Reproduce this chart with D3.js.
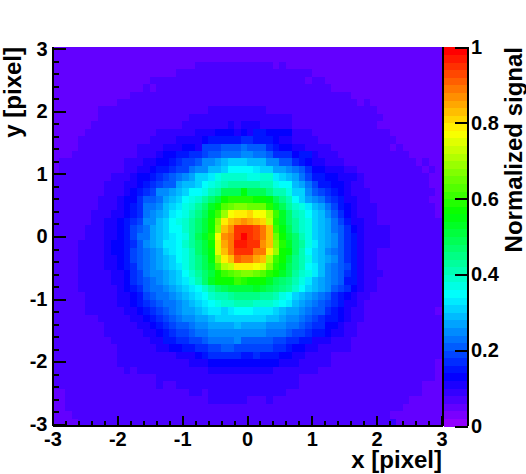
<!DOCTYPE html>
<html><head><meta charset="utf-8">
<script src="https://d3js.org/d3.v7.min.js"></script>
<style>
html,body{margin:0;padding:0;background:#fff}
svg{display:block}
text{font-family:"Liberation Sans",Arial,sans-serif;font-weight:bold;fill:#000}
</style></head><body><svg id="c" width="526" height="474"></svg>
<script>
// Palette level of each cell (one character per cell, top row first; spaces only group runs).
const levelAlphabet = "0123456789abcdefghijklmnopqrstuvwxyzABCDEFGHIJKLMN";
const signalRows = [
"222222222222222222222222222222 222222222222222222222222222222",
"222222222222222222222222222222 222222222222222222222222222222",
"2222222222222222222222 33333333 3333 2 3 222222222222222222222222",
"2222222222222222222 33333333333 3333333333 22222222222222222222",
"222222222222222 333333333333333 333333333 2 33 222222222222222222",
"22222222222222 3 2 33333333333333 3333333333333 22222222222222222",
"222222222222 333333333333333333 3333333333333333 22222222222222",
"2222222222 33333333333333333333 33333333333333333 2 3 22222222222",
"2222222 33333333333333333 444444 444 33333333333333333 2222222222",
"2222222 33333333333333 444444444 4444444 33333333333333 222222222",
"222222 33333333333333 4444444 5 4 5 55 44444 3333333333333 2222222222",
"22222 33333333333 444444 555 666 5 6 5 77 6666 444 333333333333 22222222",
"2222 33333333333 4444 5555 6 77777 8 8 777 6 55 4444 333333333333 2222222",
"2222 333333333 4444 555 66 5 999 aaa b aaa 8 7 66 55 4444 333333333 2 3 222222",
"222 3333333333 444 5 66 77 88 9 aa bbb c c bb a 888 6 77 5 444 33333333333 22222",
"2 3333333333 444 55 66 7 8 99 a cc d e fff eee cc aa 8 7 6 55 444 33333333333 2 3 22",
"2 3333333333 44 55 6 77 8 99 b cc ee f h hh h g ff dd c b a 8 66 555 44 3333333333 2 3 2",
"333333333 444 5 66 7 8 9 a b c d ff g i jjjj ii jj g f e d b 9 77 66 555 4 3333333333 22",
"33333333 444 55 6 7 8 9 aa d ee f h i j k lll ll kk i hh e d b 9 77 66 5 44 3333333333 22",
"33333333 444 5 6 7 8 9 cc d e f hh i k l ooo r ooo m kk i ff c a 9 8 7 6 5 444 3333333333 2",
"3333333 444 5 66 8 aa b d e f h i j l n p s ttt t ss r o m k h f d c b 9 8 7 55 44 333333333 22",
"3333333 444 5 6 7 8 bb c e f g i j l n q s v w xx www t q o l j i g e d b 9 7 6 5 444 333333333 2",
"333333 444 55 6 7 8 b c d e g h i k m o r u y C DD E CC z u q n k j h f e c a 8 6 5 444 333333333 2",
"333333 44 55 6 7 8 9 cc e f h i j l n p s x D F G H G F E A t q n l j i f e d b 9 7 5 5 44 3333333333",
"33333 444 55 6 7 9 a b d e f h h j l n p s y F H L L L K I F u r o l j i f e d b a 8 6 5 4444 33333333",
"33333 444 55 6 7 9 b b d e f g h i l o q t C H I L N L K I F w s p n k i f e d c a 8 7 5 4444 33333333",
"3333 4444 5 66 7 8 a c d e g g h j l n p s B G I M M L L H F x t q n l i g e d c a 8 7 5 4444 33333333",
"3333 4444 5 66 7 9 a b c d f g h i k n p r B F I L L L I I D y s r n k h f e c b a 8 7 5 44 3333333333",
"3333 4444 55 6 7 9 a b c d e f h i k m o r y D F J I I G F z u s p m k i f e d c a 8 7 5 44 3333333333",
"3333 4444 55 6 7 8 a b c d e f g i k m o q v z A D D D C B x t r o m k h g e c b a 9 7 5 44 3333333333",
"3333 44444 55 6 8 9 b c c d e f h j l n p s u v w x x w v t s q o l j i g e c b a 8 7 5 444 333333333",
"3333 44444 55 6 8 9 a b c d e f g i k n q s s s u t s s s q o n m k i g e d c b a 7 7 5 44 3333333333",
"3333 444444 5 6 7 8 a b b c d e f g h j l n o p p p p q p o n m l j h f e d c a 9 8 6 5 44 3333333333",
"33333 44444 55 6 7 9 a b b c d e f g h j k k l m m m m l l k i h f e d c b a 8 7 6 5 44 33333333333",
"33333 44444 55 6 7 8 9 a b b c d e f g h i j j k k k j j j i h g e d c b a 9 8 7 5 5 4 333333333333",
"33333 444444 55 6 7 8 9 a b c d d e f g g f g h h h g g g f e d d c b a a 8 7 6 5 44 33333333333 2",
"3333333 44444 55 6 7 8 9 a b c c d d e f f f f f f f f e e d c c b a 9 8 7 7 6 5 44 333333333333",
"33333333 44444 55 6 7 8 9 a a b c c d d d d e d d d d c c c b b a 9 8 8 6 6 5 44 3333333333333",
"33333333 444444 55 6 7 8 9 9 a b b c c c c c c c c c b b b a 9 9 8 7 7 6 5 5 44 3333333333333",
"333333333 444444 55 77 88 99 a bbbb c a aaaa 99 88 77 55 5 444 33333333333333",
"3333333333 444444 55 66 77 88 99 aa99 9999 88 7 66 55 44444 33333333333333",
"3333333333 444444444 555 6 7 88888 7 7 8 777 66 55 4444 33333333333333333",
"3333333333 44444444444 555 6 66666 66666 555 44444 3333333333333333 2",
"33333333333 4 3 44444444444 555555 5555 4444444 333333333333333333 2",
"3333333333333333 44444444444444 44444444 333333333333333333333 2",
"3333333333333333 4 33 44444444444 44444444 3333333333333333333 222",
"22 3333333333333333333 44 3 444444 444444 333333333333333333333 222",
"22 3333333333333333333333 444444 333 4 333333333333333333333 22222",
"22 3333333333333333333333333333 333333333333333333333333 222222",
"222 333333333333333333333333333 3333333333333333333333 22222222",
"2222 33333333333333333333333333 3333333333333333333333 4 2222222"
];
const xMajorTicks = [-3,-2,-1,0,1,2,3];
const yMajorTicks = [-3,-2,-1,0,1,2,3];
const xMinorTicks = d3.range(-15,16).map(v=>v/5);
const yMinorTicks = d3.range(-15,16).map(v=>v/5);
const barTicks = [0,0.2,0.4,0.6,0.8,1];
const barLevels = d3.range(50);
const xTitle = "x [pixel]", yTitle = "y [pixel]", barTitle = "Normalized signal";

const levels = signalRows.map(r=>Array.from(r.replace(/ /g,"")).map(ch=>levelAlphabet.indexOf(ch)));
levels.forEach((r,i)=>{ if(r.length!==60) console.error("row",i,r.length); });

const L=52.5,R=441.5,T=47,B=426,BX0=444,BX1=468;
const x=d3.scaleLinear([-3,3],[L,R]);
const y=d3.scaleLinear([-3.03,3.03],[B,T]);
const z=d3.scaleLinear([0,1],[B,T]);
const col=d3.scaleBand(d3.range(60),[L,R]);
const row=d3.scaleBand(d3.range(levels.length),[T,B]);
const barBand=d3.scaleBand(barLevels,[B,T]);
const palette=barLevels.map(i=>d3.hsl(280-(i+1)*5.6,1,0.5).formatHex());
const color=d3.scaleQuantize([0,1],palette);

const svg=d3.select("#c");
const cells=svg.append("g").attr("shape-rendering","crispEdges");
levels.forEach((r,ri)=>{
  cells.selectAll(null).data(r).join("rect")
    .attr("x",(d,i)=>col(i)).attr("y",row(ri))
    .attr("width",col.bandwidth()+.5).attr("height",row.bandwidth()+.5)
    .attr("fill",d=>color((d+.5)/50));
});
svg.append("g").attr("shape-rendering","crispEdges").selectAll("rect").data(barLevels).join("rect")
  .attr("x",BX0).attr("width",BX1-BX0).attr("y",d=>barBand(d)).attr("height",barBand.bandwidth()+.5)
  .attr("fill",d=>palette[d]);

function style(g,fs,w){
  g.select(".domain").remove();
  g.selectAll("line").attr("stroke","#000").attr("stroke-width",w||2).attr("shape-rendering","crispEdges");
  g.selectAll("text").attr("font-size",fs);
}
// minor ticks
svg.append("g").attr("transform",`translate(0,${B})`).call(d3.axisBottom(x).tickValues(xMinorTicks).tickSize(-5).tickFormat("")).call(style,0);
svg.append("g").attr("transform",`translate(${L},0)`).call(d3.axisLeft(y).tickValues(yMinorTicks).tickSize(-6.5).tickFormat("")).call(style,0);
// major ticks with labels
const ax=svg.append("g").attr("transform",`translate(0,${B})`).call(d3.axisBottom(x).tickValues(xMajorTicks).tickSize(-10).tickPadding(7)).call(style,20);
ax.selectAll("text").text(d=>String(d)).attr("y",20).attr("dy",0);
const ay=svg.append("g").attr("transform",`translate(${L},0)`).call(d3.axisLeft(y).tickValues(yMajorTicks).tickSize(-13).tickPadding(5)).call(style,20);
ay.selectAll("text").text(d=>String(d));
const ab=svg.append("g").attr("transform",`translate(${BX1},0)`).call(d3.axisRight(z).tickValues(barTicks).tickSize(-13).tickPadding(3)).call(style,20);
ab.selectAll("text").text(d=>String(d));
// frame
const frame=[[L,T,L,B],[L,B,R+1,B],[R+1,T,R+1,B],[BX1,T,BX1,B]];
svg.append("g").attr("shape-rendering","crispEdges").selectAll("line").data(frame).join("line")
  .attr("x1",d=>d[0]).attr("y1",d=>d[1]).attr("x2",d=>d[2]).attr("y2",d=>d[3]).attr("stroke","#000").attr("stroke-width",2);
// titles
svg.append("text").attr("x",442).attr("y",468).attr("text-anchor","end").attr("font-size",24).text(xTitle);
svg.append("text").attr("transform","translate(21,47) rotate(-90)").attr("text-anchor","end").attr("font-size",24).text(yTitle);
svg.append("text").attr("transform","translate(522,47) rotate(-90)").attr("text-anchor","end").attr("font-size",24).text(barTitle);
</script>
</body></html>
